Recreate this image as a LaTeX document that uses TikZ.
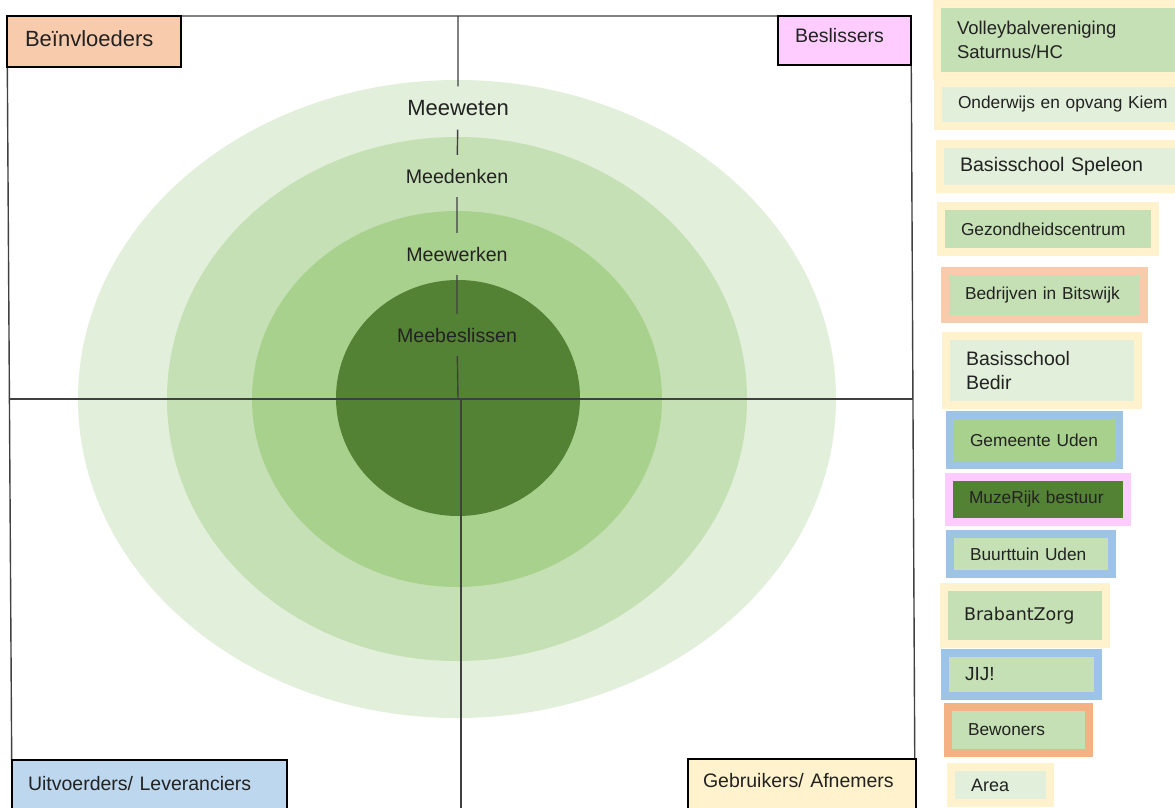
\documentclass[tikz,border=0pt]{standalone}
\usepackage{fontspec}
\setmainfont{Liberation Sans}
\newfontfamily\zorgfont{DejaVu Sans}
\definecolor{ringA}{HTML}{E2EFDA}
\definecolor{ringB}{HTML}{C5E0B4}
\definecolor{ringC}{HTML}{A9D18E}
\definecolor{ringD}{HTML}{548235}
\definecolor{peach}{HTML}{F8CBAD}
\definecolor{orchid}{HTML}{FFCCFF}
\definecolor{paleblue}{HTML}{BDD7EE}
\definecolor{cream}{HTML}{FFF2CC}
\definecolor{midblue}{HTML}{9DC3E6}
\definecolor{apricot}{HTML}{F4B183}
\definecolor{ink}{HTML}{222222}
\definecolor{axis}{HTML}{404040}
\begin{document}
\begin{tikzpicture}[x=1pt,y=-1pt,
        quad/.style={rectangle,draw=black,line width=1.4pt,anchor=north west,align=left,inner xsep=#1,inner ysep=8pt,outer sep=0pt,text=ink,font=\fontsize{19.5}{23}\selectfont},
        ring/.style={inner xsep=2pt,inner ysep=14pt,outer sep=0pt,text=ink,font=\fontsize{19.6}{23}\selectfont},
        member/.style n args={2}{rectangle,draw=#1,fill=#2,line width=8pt,outer sep=4pt,anchor=north west,align=left,inner xsep=20pt,inner ysep=0pt,text=ink,font=\fontsize{17.3}{24}\selectfont}]

        \useasboundingbox (0,0) rectangle (1175,808);
        \clip (0,0) rectangle (1175,808);
        \fill[white] (0,0) rectangle (1175,808);

        \coordinate (ctr) at (457,399);
        \fill[ringA] (ctr) ellipse [x radius=379pt, y radius=319pt];
        \fill[ringB] (ctr) ellipse [x radius=290pt, y radius=262pt];
        \fill[ringC] (ctr) ellipse [x radius=205pt, y radius=188pt];
        \fill[ringD] (458,398) ellipse [x radius=122pt, y radius=118pt];

        \draw[axis,line width=1.4pt] (12,808) -- (7,16) -- (911,16) -- (915,808);
        \draw[axis,line width=1.4pt] (9,399) -- (913,399);
        \draw[axis,line width=1.4pt] (461,399) -- (461,808);

        \node[quad=18pt,fill=peach,text width=138pt,text height=23pt,text depth=12pt,font=\fontsize{22}{26}\selectfont] (infl) at (7,16) {Beïnvloeders};
        \node[quad=17pt,fill=orchid,text width=99pt,text height=19pt,text depth=14pt] (decide) at (778,16) {Beslissers};
        \node[quad=16pt,fill=paleblue,text width=243pt,text height=22pt,text depth=32pt] (exec) at (12,760) {Uitvoerders/ Leveranciers};
        \node[quad=15pt,fill=cream,text width=198pt,text height=20pt,text depth=32pt] (users) at (688,759) {Gebruikers/ Afnemers};

        \coordinate (top) at (458,16);
        \coordinate (midup) at (458,399);
        \node[ring,font=\fontsize{22}{26}\selectfont] (weten) at (458,108) {Meeweten};
        \node[ring] (denken) at (457,176) {Meedenken};
        \node[ring] (werken) at (457,254) {Meewerken};
        \node[ring] (beslis) at (457,335) {Meebeslissen};
        \draw[axis,line width=1.4pt] (top) -- (weten) (weten) -- (denken) (denken) -- (werken)
            (werken) -- (beslis) (beslis) -- (midup);

        \node[member={cream}{ringB},text width=214pt,minimum height=72pt,font=\fontsize{18.5}{24}\selectfont] (volley) at (933,0) {Volleybalvereniging\\Saturnus/HC};
        \node[member={cream}{ringA},text width=213pt,minimum height=43pt] (kiem) at (934,79) {Onderwijs en opvang Kiem};
        \node[member={cream}{ringA},text width=211pt,minimum height=45pt,font=\fontsize{19.6}{24}\selectfont] (speleon) at (936,140) {Basisschool Speleon};
        \node[member={cream}{ringB},text width=174pt,minimum height=46pt] (gezond) at (937,202) {Gezondheidscentrum};
        \node[member={peach}{ringB},text width=159pt,minimum height=48pt] (bitswijk) at (941,267) {Bedrijven in Bitswijk};
        \node[member={cream}{ringA},text width=152pt,minimum height=69pt,font=\fontsize{19.5}{24}\selectfont] (bedir) at (942,332) {Basisschool\\Bedir};
        \node[member={midblue}{ringC},text width=129pt,minimum height=50pt] (gemeente) at (946,411) {Gemeente Uden};
        \node[member={orchid}{ringD},text width=138pt,minimum height=45pt] (muze) at (945,473) {MuzeRijk bestuur};
        \node[member={midblue}{ringB},text width=122pt,minimum height=40pt] (buurt) at (946,530) {Buurttuin Uden};
        \node[member={cream}{ringB},text width=122pt,minimum height=57pt,font=\zorgfont\fontsize{17.5}{24}\selectfont] (zorg) at (940,583) {BrabantZorg};
        \node[member={midblue}{ringB},text width=113pt,minimum height=43pt,font=\fontsize{19}{24}\selectfont] (jij) at (941,649) {JIJ!};
        \node[member={apricot}{ringB},text width=101pt,minimum height=46pt] (bewoners) at (944,703) {Bewoners};
        \node[member={cream}{ringA},text width=59pt,minimum height=36pt,font=\fontsize{18}{24}\selectfont] (area) at (947,763) {Area};
    \end{tikzpicture}
\end{document}
